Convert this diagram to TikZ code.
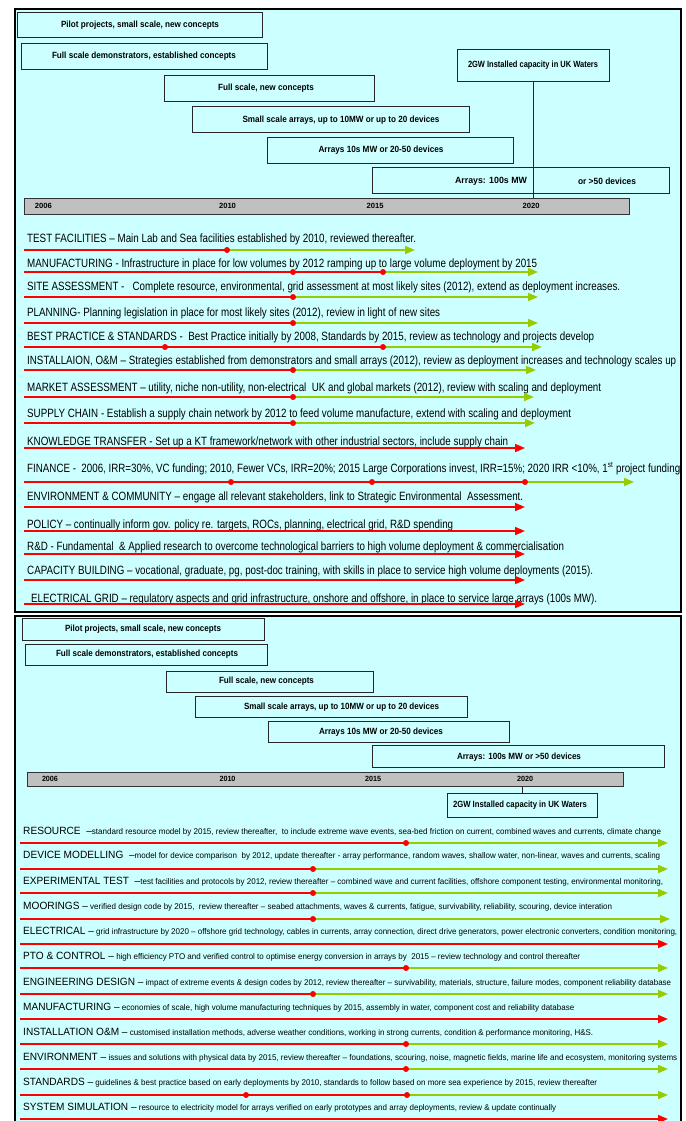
\documentclass[tikz,border=0pt]{standalone}
\usepackage{fontspec}
\setmainfont{Liberation Sans}
\usetikzlibrary{arrows.meta}
\definecolor{bgcyan}{HTML}{CCFFFF}
\definecolor{rowred}{HTML}{FF0000}
\definecolor{rowgreen}{HTML}{99CC00}
\definecolor{bargray}{HTML}{C0C0C0}
\newcommand\fitw[2]{\resizebox{#1pt}{\height}{#2}}
\newcommand\lbl[1]{{\fontsize{10.5}{12}\selectfont #1}}
\newcommand\dsc[1]{{\fontsize{8.3}{10}\selectfont #1}}
% row with milestones: name, y, start x, milestone x list (last = colour change), end x
\newcommand\greenrow[5]{%
  \coordinate (#1s) at (#3,#2);
  \coordinate (#1e) at (#5,#2);
  \foreach \dx [count=\i] in {#4} {\coordinate (#1c\i) at (\dx,#2); \xdef\lastdot{\i}}
  \draw[redline] (#1s) -- (#1c\lastdot);
  \draw[greenline,tip] (#1c\lastdot) -- (#1e);
  \foreach \dx [count=\i] in {#4} {\node[milestone] (#1d\i) at (#1c\i) {};}
}
\newcommand\redrow[4]{%
  \coordinate (#1s) at (#3,#2);
  \coordinate (#1e) at (#4,#2);
  \draw[redline,tip] (#1s) -- (#1e);
}
\begin{document}
\begin{tikzpicture}[x=1pt,y=-1pt,
  panel/.style={draw=black,line width=2.4pt,fill=bgcyan},
  phase/.style={draw=black!85,line width=0.8pt,rectangle,inner sep=0pt},
  phasetext/.style={inner sep=0pt,font=\fontsize{9}{10}\selectfont\bfseries},
  yeartext/.style={inner sep=0pt,font=\fontsize{7.5}{8}\selectfont\bfseries},
  yearbar/.style={draw=black!80,line width=1pt,fill=bargray,rectangle,inner sep=0pt},
  rowtext/.style={inner sep=0pt,anchor=base west,font=\fontsize{12}{14}\selectfont},
  brow/.style={inner sep=0pt,anchor=base west},
  redline/.style={draw=rowred,line width=1.7pt},
  greenline/.style={draw=rowgreen,line width=1.7pt},
  tip/.style={-{Triangle[length=10pt,width=8pt]}},
  milestone/.style={circle,fill=rowred,inner sep=0pt,minimum size=6pt},
  link/.style={draw=black!85,line width=0.8pt}]
\useasboundingbox (0,0) rectangle (685,1121);
\clip (0,0) rectangle (685,1121);
\fill[white] (0,0) rectangle (685,1121);

% ================= TOP PANEL =================
\draw[panel] (15,9) rectangle (681,612);

\node[phase,minimum width=245pt,minimum height=25pt] (pa1) at (140,24.5) {};
\node[phasetext] (pa1t) at (140,25) {\fitw{158}{Pilot projects, small scale, new concepts}};
\node[phase,minimum width=246pt,minimum height=26pt] (pa2) at (144,56) {};
\node[phasetext] (pa2t) at (144,56) {\fitw{184}{Full scale demonstrators, established concepts}};
\node[phase,minimum width=152pt,minimum height=32pt] (gw1) at (533,65) {};
\node[phasetext] (gw1t) at (533,65) {\fitw{130}{2GW Installed capacity in UK Waters}};
\node[phase,minimum width=210pt,minimum height=26pt] (pa3) at (269,88) {};
\node[phasetext] (pa3t) at (266,88.5) {\fitw{96}{Full scale, new concepts}};
\node[phase,minimum width=277pt,minimum height=26pt] (pa4) at (330.5,119.5) {};
\node[phasetext] (pa4t) at (341,120) {\fitw{197}{Small scale arrays, up to 10MW or up to 20 devices}};
\node[phase,minimum width=246pt,minimum height=26pt] (pa5) at (390,150) {};
\node[phasetext] (pa5t) at (381,150) {\fitw{125}{Arrays 10s MW or 20-50 devices}};
\node[phase,minimum width=297pt,minimum height=26pt] (pa6) at (520.5,180.5) {};
\node[phasetext] (pa6t) at (491,181) {\fitw{72}{Arrays: 100s MW}};
\node[phasetext] (pa6u) at (607,181) {\fitw{58}{or >50 devices}};

\node[yearbar,minimum width=605pt,minimum height=16pt] (bar1) at (326.5,206) {};
\node[yeartext] (y1a) at (43.5,206) {\fitw{17}{2006}};
\node[yeartext] (y1b) at (227.5,206) {\fitw{17}{2010}};
\node[yeartext] (y1c) at (375,206) {\fitw{17}{2015}};
\node[yeartext] (y1d) at (531,206) {\fitw{17}{2020}};
\draw[link] (gw1.south) -- (gw1.south |- bar1.north);

% rows
\node[rowtext] (taT) at (27,242) {\fitw{389}{TEST FACILITIES – Main Lab and Sea facilities established by 2010, reviewed thereafter.}};
\greenrow{ta}{250}{24}{227}{415}
\node[rowtext] (tbT) at (27,267) {\fitw{510}{MANUFACTURING - Infrastructure in place for low volumes by 2012 ramping up to large volume deployment by 2015}};
\greenrow{tb}{272}{24}{293,383}{538}
\node[rowtext] (tcT) at (27,290) {\fitw{593}{SITE ASSESSMENT -\ \ \ Complete resource, environmental, grid assessment at most likely sites (2012), extend as deployment increases.}};
\greenrow{tc}{297}{24}{293}{538}
\node[rowtext] (tdT) at (27,316) {\fitw{413}{PLANNING- Planning legislation in place for most likely sites (2012), review in light of new sites}};
\greenrow{td}{323}{24}{293}{538}
\node[rowtext] (teT) at (27,340) {\fitw{567}{BEST PRACTICE \& STANDARDS -\ \ Best Practice initially by 2008, Standards by 2015, review as technology and projects develop}};
\greenrow{te}{347}{24}{165,383}{542}
\node[rowtext] (tfT) at (27,364) {\fitw{649}{INSTALLAION, O\&M – Strategies established from demonstrators and small arrays (2012), review as deployment increases and technology scales up}};
\greenrow{tf}{370}{24}{293}{536}
\node[rowtext] (tgT) at (27,391) {\fitw{574}{MARKET ASSESSMENT – utility, niche non-utility, non-electrical\ \ UK and global markets (2012), review with scaling and deployment}};
\greenrow{tg}{397}{24}{293}{534}
\node[rowtext] (thT) at (27,417) {\fitw{544}{SUPPLY CHAIN - Establish a supply chain network by 2012 to feed volume manufacture, extend with scaling and deployment}};
\greenrow{th}{423}{24}{293}{535}
\node[rowtext] (tiT) at (27,445) {\fitw{481}{KNOWLEDGE TRANSFER - Set up a KT framework/network with other industrial sectors, include supply chain}};
\redrow{ti}{448}{24}{525}
\node[rowtext] (tjT) at (27,472) {\fitw{653}{FINANCE -\ \ 2006, IRR=30\%, VC funding; 2010, Fewer VCs, IRR=20\%; 2015 Large Corporations invest, IRR=15\%; 2020 IRR <10\%, 1\textsuperscript{st} project funding}};
\greenrow{tj}{482}{24}{231,372,525}{634}
\node[rowtext] (tkT) at (27,500) {\fitw{496}{ENVIRONMENT \& COMMUNITY – engage all relevant stakeholders, link to Strategic Environmental\ \ Assessment.}};
\redrow{tk}{507}{24}{525}
\node[rowtext] (tlT) at (27,528) {\fitw{426}{POLICY – continually inform gov. policy re. targets, ROCs, planning, electrical grid, R\&D spending}};
\redrow{tl}{531}{24}{525}
\node[rowtext] (tmT) at (27,550) {\fitw{537}{R\&D - Fundamental\ \ \& Applied research to overcome technological barriers to high volume deployment \& commercialisation}};
\redrow{tm}{554}{24}{525}
\node[rowtext] (tnT) at (27,574) {\fitw{566}{CAPACITY BUILDING – vocational, graduate, pg, post-doc training, with skills in place to service high volume deployments (2015).}};
\redrow{tn}{580}{24}{525}
\node[rowtext] (toT) at (31,602) {\fitw{566}{ELECTRICAL GRID – regulatory aspects and grid infrastructure, onshore and offshore, in place to service large arrays (100s MW).}};
\redrow{to}{604}{24}{525}

% ================= BOTTOM PANEL =================
\draw[panel] (15,616) rectangle (681,1135);

\node[phase,minimum width=242pt,minimum height=22pt] (pb1) at (143,629) {};
\node[phasetext] (pb1t) at (143,629) {\fitw{156}{Pilot projects, small scale, new concepts}};
\node[phase,minimum width=242pt,minimum height=21pt] (pb2) at (146,654.5) {};
\node[phasetext] (pb2t) at (147,654.5) {\fitw{182}{Full scale demonstrators, established concepts}};
\node[phase,minimum width=207pt,minimum height=21pt] (pb3) at (269.5,681.5) {};
\node[phasetext] (pb3t) at (266.5,681.5) {\fitw{95}{Full scale, new concepts}};
\node[phase,minimum width=272pt,minimum height=21pt] (pb4) at (331,706.5) {};
\node[phasetext] (pb4t) at (341.5,707) {\fitw{195}{Small scale arrays, up to 10MW or up to 20 devices}};
\node[phase,minimum width=241pt,minimum height=21pt] (pb5) at (388.5,731.5) {};
\node[phasetext] (pb5t) at (381,732) {\fitw{124}{Arrays 10s MW or 20-50 devices}};
\node[phase,minimum width=292pt,minimum height=22pt] (pb6) at (518,756) {};
\node[phasetext] (pb6t) at (519,757) {\fitw{124}{Arrays: 100s MW or >50 devices}};

\node[yearbar,minimum width=596pt,minimum height=14pt] (bar2) at (325,779) {};
\node[yeartext] (y2a) at (50,779) {\fitw{16}{2006}};
\node[yeartext] (y2b) at (227.5,779) {\fitw{16}{2010}};
\node[yeartext] (y2c) at (373,779) {\fitw{16}{2015}};
\node[yeartext] (y2d) at (525,779) {\fitw{16}{2020}};
\node[phase,minimum width=150pt,minimum height=24pt] (gw2) at (522,805) {};
\node[phasetext] (gw2t) at (520,805) {\fitw{134}{2GW Installed capacity in UK Waters}};
\draw[link] (bar2.south -| gw2.north) -- (gw2.north);

\node[brow] (baT) at (23,834.5) {\fitw{638}{\lbl{RESOURCE\ \ –}\dsc{standard resource model by 2015, review thereafter,\ \ to include extreme wave events, sea-bed friction on current, combined waves and currents, climate change}}};
\greenrow{ba}{843}{20}{406}{668}
\node[brow] (bbT) at (23,858.5) {\fitw{637}{\lbl{DEVICE MODELLING\ \ –}\dsc{model for device comparison\ \ by 2012, update thereafter - array performance, random waves, shallow water, non-linear, waves and currents, scaling}}};
\greenrow{bb}{869}{20}{313}{668}
\node[brow] (bcT) at (23,884.5) {\fitw{640}{\lbl{EXPERIMENTAL TEST\ \ –}\dsc{test facilities and protocols by 2012, review thereafter – combined wave and current facilities, offshore component testing, environmental monitoring,}}};
\greenrow{bc}{893}{20}{313}{668}
\node[brow] (bdT) at (23,909.5) {\fitw{589}{\lbl{MOORINGS –}\dsc{ verified design code by 2015,\ \ review thereafter – seabed attachments, waves \& currents, fatigue, survivability, reliability, scouring, device interation}}};
\greenrow{bd}{919}{20}{313}{670}
\node[brow] (beT) at (23,934.5) {\fitw{654}{\lbl{ELECTRICAL –}\dsc{ grid infrastructure by 2020 – offshore grid technology, cables in currents, array connection, direct drive generators, power electronic converters, condition monitoring,}}};
\redrow{be}{944}{20}{668}
\node[brow] (bfT) at (23,959.5) {\fitw{557}{\lbl{PTO \& CONTROL –}\dsc{ high efficiency PTO and verified control to optimise energy conversion in arrays by\ \ 2015 – review technology and control thereafter}}};
\greenrow{bf}{968}{20}{406}{668}
\node[brow] (bgT) at (23,985.5) {\fitw{648}{\lbl{ENGINEERING DESIGN –}\dsc{ impact of extreme events \& design codes by 2012, review thereafter – survivability, materials, structure, failure modes, component reliability database}}};
\greenrow{bg}{994}{20}{313}{668}
\node[brow] (bhT) at (23,1010.5) {\fitw{551}{\lbl{MANUFACTURING –}\dsc{ economies of scale, high volume manufacturing techniques by 2015, assembly in water, component cost and reliability database}}};
\redrow{bh}{1019}{20}{668}
\node[brow] (biT) at (23,1035.5) {\fitw{570}{\lbl{INSTALLATION O\&M –}\dsc{ customised installation methods, adverse weather conditions, working in strong currents, condition \& performance monitoring, H\&S.}}};
\greenrow{bi}{1044}{20}{406}{668}
\node[brow] (bjT) at (23,1060.5) {\fitw{654}{\lbl{ENVIRONMENT –}\dsc{ issues and solutions with physical data by 2015, review thereafter – foundations, scouring, noise, magnetic fields, marine life and ecosystem, monitoring systems}}};
\greenrow{bj}{1069}{20}{406}{668}
\node[brow] (bkT) at (23,1085.5) {\fitw{574}{\lbl{STANDARDS –}\dsc{ guidelines \& best practice based on early deployments by 2010, standards to follow based on more sea experience by 2015, review thereafter}}};
\greenrow{bk}{1095}{20}{246,407}{668}
\node[brow] (blT) at (23,1110.5) {\fitw{533}{\lbl{SYSTEM SIMULATION –}\dsc{ resource to electricity model for arrays verified on early prototypes and array deployments, review \& update continually}}};
\redrow{bl}{1119}{20}{668}
\end{tikzpicture}
\end{document}
